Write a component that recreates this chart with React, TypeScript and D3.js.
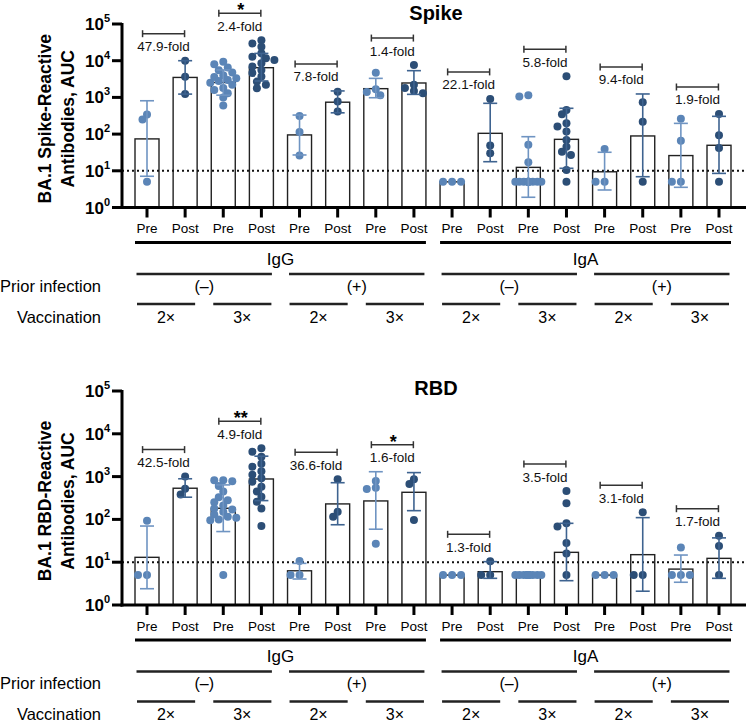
import React from "react";
import * as d3 from "d3";

// ---- categories / labels
const conditions = ["Pre", "Post", "Pre", "Post", "Pre", "Post", "Pre", "Post",
  "Pre", "Post", "Pre", "Post", "Pre", "Post", "Pre", "Post"];
const isotypes = ["IgG", "IgA"];
const priorInfection = ["(–)", "(+)"];
const vaccination = ["2×", "3×"];
const yTicks = [1, 10, 100, 1000, 10000, 100000];
const lod = 10;

// ---- Spike panel (geometric mean, error range, individual values)
const spikeMean = [74, 3500, 2550, 6450, 95, 740, 1730, 2470, 5, 105, 12.4, 72, 9.4, 89, 26, 49.6];
const spikeErrLow = [7.1, 1230, 1150, 2800, 27, 380, 980, 1210, 5, 17.7, 1.9, 11.7, 3.0, 6.9, 3.55, 8.5];
const spikeErrHigh = [810, 10000, 5600, 15800, 330, 1500, 3300, 5350, 5, 690, 85, 505, 32, 1240, 196, 305];
const spikePoints = [
  [340, 250, 5],
  [10000, 3650, 1230],
  [9300, 8000, 6500, 5500, 4800, 4000, 3600, 3300, 3000, 2800, 2500, 2200, 1800, 1600, 1300, 1000, 600],
  [36000, 29500, 24000, 16000, 12900, 11700, 10500, 8500, 6900, 5600, 4600, 3700, 2700, 2200, 1780],
  [310, 114, 26],
  [1430, 770, 410],
  [4700, 1660, 1400, 1140],
  [7600, 2200, 1800, 1500, 1300],
  [5, 5, 5],
  [910, 49, 30],
  [1150, 1050, 51, 17, 5, 5, 5, 5, 5, 5, 5, 5, 5, 5, 5, 5],
  [3750, 455, 350, 196, 160, 117, 69, 45, 33, 27, 10.5, 5],
  [39, 5, 5],
  [740, 218, 5],
  [263, 66, 5, 5],
  [353, 93, 42, 5],
];
const spikeFold = ["47.9-fold", "2.4-fold", "7.8-fold", "1.4-fold", "22.1-fold", "5.8-fold", "9.4-fold", "1.9-fold"];
const spikeSig = ["", "*", "", "", "", "", "", ""];

// ---- RBD panel
const rbdMean = [13, 535, 182, 880, 6.3, 230, 270, 430, 5, 6.0, 5, 17, 5, 15, 6.9, 12.3];
const rbdErrLow = [2.4, 330, 52, 275, 4.05, 75, 59, 160, 5, 4.2, 5, 3.7, 5, 2.1, 3.4, 4.2];
const rbdErrHigh = [70, 890, 640, 3000, 9.4, 720, 1300, 1240, 5, 10.3, 5, 81, 5, 110, 14.7, 37];
const rbdPoints = [
  [93, 5, 5],
  [1000, 520, 380],
  [820, 820, 780, 600, 450, 330, 280, 250, 210, 180, 170, 150, 130, 115, 110, 100, 95, 5],
  [4600, 3800, 2900, 2000, 1700, 1330, 1100, 910, 760, 580, 450, 340, 260, 180, 70],
  [10.7, 5, 5],
  [870, 150, 116],
  [790, 550, 510, 27],
  [870, 670, 97],
  [5, 5, 5],
  [10.5, 5, 5],
  [5, 5, 5, 5, 5, 5, 5, 5, 5, 5, 5, 5, 5, 5, 5, 5, 5],
  [460, 240, 81, 68, 28, 16, 5],
  [5, 5, 5],
  [146, 5, 5],
  [22, 5, 5, 5],
  [41.6, 24, 5],
];
const rbdFold = ["42.5-fold", "4.9-fold", "36.6-fold", "1.6-fold", "1.3-fold", "3.5-fold", "3.1-fold", "1.7-fold"];
const rbdSig = ["", "**", "", "*", "", "", "", ""];

const FONT = "'Liberation Sans', Arial, Helvetica, sans-serif";
const preColor = "#5b85b7";
const postColor = "#2c4e76";
const preErr = "#6f94c2";
const postErr = "#3e6390";

// simple beeswarm so equal values sit side by side
function swarm(vals: number[], y: (v: number) => number) {
  const sorted = vals.slice().sort((a, b) => b - a);
  const placed: { dx: number; cy: number }[] = [];
  const cands = [0, -4.5, 4.5, -9, 9, -13, 13];
  sorted.forEach(v => {
    const cy = y(v);
    let best = 0, bestD = -1;
    for (const dx of cands) {
      let minD = Infinity;
      placed.forEach(p => { minD = Math.min(minD, Math.hypot(p.dx - dx, p.cy - cy)); });
      if (minD >= 6) { best = dx; break; }
      if (minD > bestD) { bestD = minD; best = dx; }
    }
    placed.push({ dx: best, cy });
  });
  return placed;
}

const Panel = (props: any) => {
  const { base, top, titleY, title, yLabel, mean, lo, hi, points, fold, sig } = props;
  const x = d3.scalePoint<number>().domain(d3.range(16)).range([147, 719]);
  const y = d3.scaleLog().domain([1, 100000]).range([base, top]);
  const bw = 24;
  const mid = (base + top) / 2;

  const spanLine = (a: number, b: number, gap: number) =>
    [x(a)! - 12 + gap, x(b)! + 12 - gap];

  return (
    <g fontFamily={FONT}>
      <text x={436} y={titleY} textAnchor="middle" dominantBaseline="central"
        fontWeight="bold" fontSize={20}>{title}</text>

      {/* y title */}
      <g transform={`translate(45,${mid + 3}) rotate(-90)`}>
        <text textAnchor="middle" dominantBaseline="central" fontWeight="bold" fontSize={17.5}>{yLabel[0]}</text>
      </g>
      <g transform={`translate(68,${mid + 3}) rotate(-90)`}>
        <text textAnchor="middle" dominantBaseline="central" fontWeight="bold" fontSize={17.5}>{yLabel[1]}</text>
      </g>

      {/* bars */}
      {mean.map((m: number, i: number) => (
        <rect key={"b" + i} x={x(i)! - bw / 2} y={y(m)} width={bw} height={base - y(m)}
          fill="#fff" stroke="#222" strokeWidth={1.4} />
      ))}

      {/* LOD line */}
      <line x1={122} x2={746} y1={y(lod)} y2={y(lod)} stroke="#111" strokeWidth={2} strokeDasharray="2,3" />

      {/* points */}
      {points.map((vals: number[], i: number) =>
        swarm(vals, y).map((p, j) => (
          <circle key={`p${i}-${j}`} cx={x(i)! + p.dx} cy={p.cy} r={4}
            fill={i % 2 === 0 ? preColor : postColor} />
        ))
      )}

      {/* error bars */}
      {mean.map((m: number, i: number) => {
        if (lo[i] === hi[i]) return null;
        const c = i % 2 === 0 ? preErr : postErr;
        const cx = x(i)!;
        return (
          <g key={"e" + i} stroke={c} strokeWidth={1.6}>
            <line x1={cx} x2={cx} y1={y(lo[i])} y2={y(hi[i])} />
            <line x1={cx - 7} x2={cx + 7} y1={y(lo[i])} y2={y(lo[i])} />
            <line x1={cx - 7} x2={cx + 7} y1={y(hi[i])} y2={y(hi[i])} />
          </g>
        );
      })}

      {/* fold-change brackets */}
      {fold.map((f: string, k: number) => {
        const a = 2 * k, b = 2 * k + 1;
        const maxV = Math.max(d3.max(points[a] as number[])!, d3.max(points[b] as number[])!, hi[a], hi[b]);
        const by = y(maxV) - 27;
        const cx = (x(a)! + x(b)!) / 2 - 2.5;
        return (
          <g key={"f" + k}>
            <g stroke="#333" strokeWidth={1.5}>
              <line x1={cx - 21} x2={cx + 21} y1={by} y2={by} />
              <line x1={cx - 21} x2={cx - 21} y1={by - 3.5} y2={by + 3.5} />
              <line x1={cx + 21} x2={cx + 21} y1={by - 3.5} y2={by + 3.5} />
            </g>
            <text x={cx} y={by + 17.5} textAnchor="middle" fontSize={13.5} fill="#111">{f}</text>
            {sig[k] && (
              <text x={cx + 1} y={by + 3} textAnchor="middle" fontSize={18} fontWeight="bold">{sig[k]}</text>
            )}
          </g>
        );
      })}

      {/* y axis */}
      <line x1={122} x2={122} y1={top - 1} y2={base + 1.5} stroke="#000" strokeWidth={3} />
      {yTicks.map(t => (
        <g key={"t" + t}>
          <line x1={112} x2={122} y1={y(t)} y2={y(t)} stroke="#000" strokeWidth={3} />
          <text x={110} y={y(t) + 6} textAnchor="end" fontWeight="bold" fontSize={17}>
            10<tspan dy={-8} fontSize={11}>{Math.round(Math.log10(t))}</tspan>
          </text>
        </g>
      ))}

      {/* x axis */}
      <line x1={120.5} x2={746} y1={base} y2={base} stroke="#000" strokeWidth={3} />
      {conditions.map((c, i) => (
        <g key={"x" + i}>
          <line x1={x(i)} x2={x(i)} y1={base} y2={base + 10} stroke="#000" strokeWidth={3} />
          <text x={x(i)} y={base + 25.5} textAnchor="middle" fontSize={13.5}>{c}</text>
        </g>
      ))}

      {/* grouping rows */}
      {isotypes.map((g, gi) => {
        const [a, b] = spanLine(gi * 8, gi * 8 + 7, 0);
        return (
          <g key={"g" + gi}>
            <line x1={a} x2={b} y1={base + 35} y2={base + 35} stroke="#000" strokeWidth={3} />
            <text x={(a + b) / 2} y={base + 57} textAnchor="middle" fontSize={17}>{g}</text>
            {priorInfection.map((p, pi) => {
              const s = gi * 8 + pi * 4;
              const [c1, c2] = spanLine(s, s + 3, 1.5);
              return (
                <g key={"pi" + pi}>
                  <line x1={c1} x2={c2} y1={base + 66.5} y2={base + 66.5} stroke="#222" strokeWidth={2.5} />
                  <text x={(c1 + c2) / 2} y={base + 84} textAnchor="middle" fontSize={16}>{p}</text>
                  {vaccination.map((v, vi) => {
                    const s2 = s + vi * 2;
                    const [d1, d2] = spanLine(s2, s2 + 1, 2);
                    return (
                      <g key={"v" + vi}>
                        <line x1={d1} x2={d2} y1={base + 96.5} y2={base + 96.5} stroke="#222" strokeWidth={2.5} />
                        <text x={(d1 + d2) / 2} y={base + 115} textAnchor="middle" fontSize={16}>{v}</text>
                      </g>
                    );
                  })}
                </g>
              );
            })}
          </g>
        );
      })}
      <text x={101} y={base + 84} textAnchor="end" fontSize={16.5}>Prior infection</text>
      <text x={101} y={base + 115} textAnchor="end" fontSize={16.5}>Vaccination</text>
    </g>
  );
};

export default function App() {
  return (
    <svg width={750} height={728} style={{ position: "absolute", left: 0, top: 0, background: "#fff" }}>
      <Panel base={207.5} top={24} titleY={13} title="Spike" yLabel={["BA.1 Spike-Reactive", "Antibodies, AUC"]}
        mean={spikeMean} lo={spikeErrLow} hi={spikeErrHigh} points={spikePoints} fold={spikeFold} sig={spikeSig} />
      <Panel base={605} top={391} titleY={388} title="RBD" yLabel={["BA.1 RBD-Reactive", "Antibodies, AUC"]}
        mean={rbdMean} lo={rbdErrLow} hi={rbdErrHigh} points={rbdPoints} fold={rbdFold} sig={rbdSig} />
    </svg>
  );
}
